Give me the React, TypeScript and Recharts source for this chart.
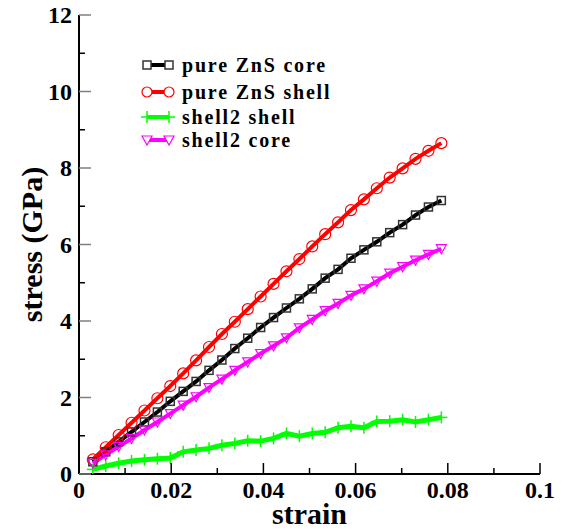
import React from 'react';
import { LineChart, Line, XAxis, YAxis, Legend, Label } from 'recharts';

const strain = [0.003, 0.0058, 0.0086, 0.0114, 0.0142, 0.017, 0.0198, 0.0226, 0.0254, 0.0282, 0.031, 0.0338, 0.0366, 0.0394, 0.0422, 0.045, 0.0478, 0.0506, 0.0534, 0.0562, 0.059, 0.0618, 0.0646, 0.0674, 0.0702, 0.073, 0.0758, 0.0786];
const pureCore = [0.32, 0.58, 0.84, 1.1, 1.36, 1.62, 1.9, 2.16, 2.42, 2.71, 2.98, 3.28, 3.55, 3.83, 4.09, 4.34, 4.58, 4.84, 5.12, 5.35, 5.64, 5.86, 6.07, 6.31, 6.52, 6.77, 6.98, 7.15];
const pureShell = [0.38, 0.7, 1.02, 1.34, 1.66, 1.98, 2.3, 2.63, 2.97, 3.32, 3.66, 3.98, 4.31, 4.64, 4.97, 5.3, 5.62, 5.95, 6.27, 6.58, 6.9, 7.18, 7.47, 7.75, 7.99, 8.24, 8.45, 8.65];
const shell2Shell = [0.12, 0.21, 0.28, 0.34, 0.37, 0.4, 0.42, 0.58, 0.63, 0.67, 0.75, 0.8, 0.87, 0.86, 0.93, 1.06, 0.99, 1.06, 1.09, 1.21, 1.25, 1.21, 1.37, 1.38, 1.42, 1.36, 1.42, 1.48];
const shell2Core = [0.28, 0.5, 0.72, 0.93, 1.15, 1.36, 1.58, 1.8, 2.02, 2.26, 2.48, 2.71, 2.93, 3.15, 3.35, 3.56, 3.82, 4.04, 4.27, 4.46, 4.67, 4.84, 5.04, 5.25, 5.42, 5.59, 5.74, 5.89];

const seriesNames = ['pure ZnS core', 'pure ZnS shell', 'shell2 shell', 'shell2 core'];
const xMajorTicks = [0, 0.02, 0.04, 0.06, 0.08, 0.1];
const xTickLabels = ['0', '0.02', '0.04', '0.06', '0.08', '0.1'];
const xMinorTicks = [0.01, 0.03, 0.05, 0.07, 0.09];
const yMajorTicks = [0, 2, 4, 6, 8, 10, 12];
const yTickLabels = ['0', '2', '4', '6', '8', '10', '12'];
const yMinorTicks = [1, 3, 5, 7, 9, 11];
const xTitle = 'strain';
const yTitle = 'stress (GPa)';

const data = strain.map((s, i) => ({
  strain: s,
  core: pureCore[i],
  shell: pureShell[i],
  s2shell: shell2Shell[i],
  s2core: shell2Core[i],
}));

const allX = [...xMajorTicks, ...xMinorTicks].sort((a, b) => a - b);
const allY = [...yMajorTicks, ...yMinorTicks].sort((a, b) => a - b);

const FONT = '"Liberation Serif", "Times New Roman", serif';

const findLabel = (v: number, majors: number[], labels: string[]) => {
  const i = majors.findIndex((m) => Math.abs(m - v) < 1e-9);
  return i >= 0 ? labels[i] : null;
};

const BottomTick = (p: any) => {
  const { x, y, payload } = p;
  const lab = findLabel(payload.value, xMajorTicks, xTickLabels);
  const len = lab !== null ? 11 : 6;
  return (
    <g>
      <line x1={x} x2={x} y1={y} y2={y - len} stroke="#000" strokeWidth={1.5} />
      {lab !== null && (
        <text x={x} y={y + 24} textAnchor="middle" fontFamily={FONT} fontWeight="bold" fontSize={24} fill="#000">
          {lab}
        </text>
      )}
    </g>
  );
};

const TopTick = (p: any) => {
  const { x, y, payload } = p;
  const lab = findLabel(payload.value, xMajorTicks, xTickLabels);
  const len = lab !== null ? 10 : 5;
  return <line x1={x} x2={x} y1={y} y2={y + len} stroke="#000" strokeWidth={1.5} />;
};

const LeftTick = (p: any) => {
  const { x, y, payload } = p;
  const lab = findLabel(payload.value, yMajorTicks, yTickLabels);
  const len = lab !== null ? 12 : 6;
  return (
    <g>
      <line x1={x} x2={x + len} y1={y} y2={y} stroke={lab !== null ? '#808080' : '#000'} strokeWidth={1.5} />
      {lab !== null && (
        <text x={x - 7} y={y + 8} textAnchor="end" fontFamily={FONT} fontWeight="bold" fontSize={24} fill="#000">
          {lab}
        </text>
      )}
    </g>
  );
};

const RightTick = (p: any) => {
  const { x, y, payload } = p;
  const lab = findLabel(payload.value, yMajorTicks, yTickLabels);
  const len = lab !== null ? 12 : 6;
  return <line x1={x} x2={x - len} y1={y} y2={y} stroke={lab !== null ? '#808080' : '#000'} strokeWidth={1.5} />;
};

const SquareDot = (p: any) => {
  if (p.cx == null || p.cy == null) return <g key={p.key} />;
  return <rect key={p.key} x={p.cx - 4} y={p.cy - 4} width={8} height={8} fill="none" stroke="#333" strokeWidth={1.5} />;
};
const CircleDot = (p: any) => {
  if (p.cx == null || p.cy == null) return <g key={p.key} />;
  return <circle key={p.key} cx={p.cx} cy={p.cy} r={5.5} fill="none" stroke="#ff0000" strokeWidth={1.2} />;
};
const PlusDot = (p: any) => {
  if (p.cx == null || p.cy == null) return <g key={p.key} />;
  return (
    <g key={p.key}>
      <line x1={p.cx} x2={p.cx} y1={p.cy - 6} y2={p.cy + 6} stroke="#00ff00" strokeWidth={1.5} />
      <line x1={p.cx - 6} x2={p.cx + 6} y1={p.cy} y2={p.cy} stroke="#00ff00" strokeWidth={1.5} />
    </g>
  );
};
const TriDot = (p: any) => {
  if (p.cx == null || p.cy == null) return <g key={p.key} />;
  const { cx, cy } = p;
  return (
    <path key={p.key} d={`M${cx - 5},${cy - 4}L${cx + 5},${cy - 4}L${cx},${cy + 5}Z`} fill="none" stroke="#ff00ff" strokeWidth={1.2} />
  );
};

const legendSymbols = [
  { color: '#000000', kind: 'square' },
  { color: '#ff0000', kind: 'circle' },
  { color: '#00ff00', kind: 'plus' },
  { color: '#ff00ff', kind: 'tri' },
];
const rowTops = [3, 29.5, 55, 78];

const renderSymbol = (kind: string, color: string, cx: number, cy: number, k: string) => {
  if (kind === 'square') return <rect key={k} x={cx - 4} y={cy - 4} width={8} height={8} fill="#fff" stroke="#333" strokeWidth={1.5} />;
  if (kind === 'circle') return <circle key={k} cx={cx} cy={cy} r={5} fill="#fff" stroke={color} strokeWidth={1.2} />;
  if (kind === 'plus')
    return (
      <g key={k}>
        <line x1={cx} x2={cx} y1={cy - 6} y2={cy + 6} stroke={color} strokeWidth={1.5} />
        <line x1={cx - 6} x2={cx + 6} y1={cy} y2={cy} stroke={color} strokeWidth={1.5} />
      </g>
    );
  return <path key={k} d={`M${cx - 5},${cy - 4}L${cx + 5},${cy - 4}L${cx},${cy + 5}Z`} fill="#fff" stroke={color} strokeWidth={1.2} />;
};

const renderLegend = () => (
  <div style={{ position: 'relative', width: 230, height: 110 }}>
    {seriesNames.map((name, i) => (
      <div key={name} style={{ position: 'absolute', left: 0, top: rowTops[i], height: 20, display: 'flex', alignItems: 'center' }}>
        <svg width={36} height={20} style={{ display: 'block' }}>
          <line x1={7} x2={29} y1={10} y2={10} stroke={legendSymbols[i].color} strokeWidth={4} />
          {renderSymbol(legendSymbols[i].kind, legendSymbols[i].color, 7, 10, 'a')}
          {renderSymbol(legendSymbols[i].kind, legendSymbols[i].color, 29, 10, 'b')}
        </svg>
        <span
          style={{
            marginLeft: 6,
            fontFamily: FONT,
            fontWeight: 'bold',
            fontSize: 20,
            letterSpacing: 1.8,
            color: '#000',
            whiteSpace: 'nowrap',
            lineHeight: '20px',
          }}
        >
          {name}
        </span>
      </div>
    ))}
  </div>
);

const XTitle = (p: any) => {
  const vb = p.viewBox;
  return (
    <text x={vb.x + vb.width / 2} y={vb.y + 50} textAnchor="middle" fontFamily={FONT} fontWeight="bold" fontSize={30} fill="#000">
      {xTitle}
    </text>
  );
};
const YTitle = (p: any) => {
  const vb = p.viewBox;
  const x = vb.x + 42;
  const y = vb.y + vb.height / 2;
  return (
    <text x={x} y={y} transform={`rotate(-90, ${x}, ${y})`} textAnchor="middle" fontFamily={FONT} fontWeight="bold" fontSize={30} fill="#000">
      {yTitle}
    </text>
  );
};

export default function App() {
  return (
    <div style={{ position: 'absolute', left: 0, top: 0, width: 563, height: 530, background: '#fff' }}>
      <LineChart width={563} height={530} data={data} margin={{ top: 15, right: 23, left: 0, bottom: 0 }}>
        <XAxis
          dataKey="strain"
          type="number"
          domain={[0, 0.1]}
          allowDataOverflow
          ticks={allX}
          interval={0}
          tickSize={0}
          tickMargin={0}
          tickLine={false}
          tick={<BottomTick />}
          axisLine={{ stroke: '#000', strokeWidth: 2 }}
          height={56}
        >
          <Label content={<XTitle />} />
        </XAxis>
        <XAxis
          xAxisId="top"
          orientation="top"
          dataKey="strain"
          type="number"
          domain={[0, 0.1]}
          allowDataOverflow
          ticks={allX}
          interval={0}
          tickSize={0}
          tickMargin={0}
          tickLine={false}
          tick={<TopTick />}
          axisLine={{ stroke: '#000', strokeWidth: 2 }}
          height={0}
        />
        <YAxis
          type="number"
          domain={[0, 12]}
          allowDataOverflow
          ticks={allY}
          interval={0}
          tickSize={0}
          tickMargin={0}
          tickLine={false}
          tick={<LeftTick />}
          axisLine={{ stroke: '#000', strokeWidth: 2 }}
          width={79}
        >
          <Label content={<YTitle />} />
        </YAxis>
        <YAxis
          yAxisId="right"
          orientation="right"
          type="number"
          domain={[0, 12]}
          allowDataOverflow
          ticks={allY}
          interval={0}
          tickSize={0}
          tickMargin={0}
          tickLine={false}
          tick={<RightTick />}
          axisLine={{ stroke: '#000', strokeWidth: 2 }}
          width={0}
        />
        <Legend
          layout="vertical"
          align="center"
          verticalAlign="middle"
          content={renderLegend}
          wrapperStyle={{ position: 'absolute', left: 140, top: 52, width: 230, height: 110, margin: 0 }}
        />
        <Line name={seriesNames[0]} dataKey="core" type="linear" stroke="#000" strokeWidth={4} dot={SquareDot} activeDot={false} isAnimationActive={false} />
        <Line name={seriesNames[1]} dataKey="shell" type="linear" stroke="#ff0000" strokeWidth={4} dot={CircleDot} activeDot={false} isAnimationActive={false} />
        <Line name={seriesNames[2]} dataKey="s2shell" type="linear" stroke="#00ff00" strokeWidth={5} dot={PlusDot} activeDot={false} isAnimationActive={false} />
        <Line name={seriesNames[3]} dataKey="s2core" type="linear" stroke="#ff00ff" strokeWidth={4} dot={TriDot} activeDot={false} isAnimationActive={false} />
      </LineChart>
    </div>
  );
}
